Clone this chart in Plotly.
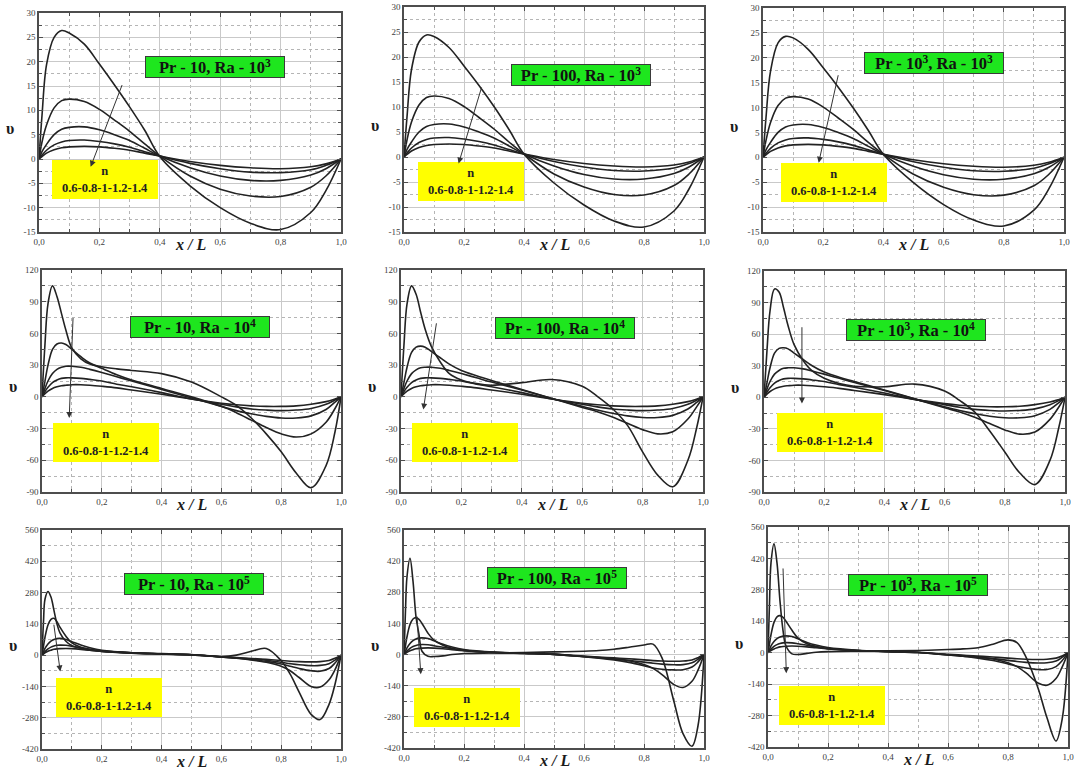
import plotly.graph_objects as go

W, H = 1077, 783

# ---------------- data ----------------
x_ra3 = [0, 0.01, 0.025, 0.05, 0.075, 0.1, 0.15, 0.2, 0.25, 0.3, 0.35, 0.4, 0.5, 0.6, 0.7, 0.8, 0.9, 0.95, 1.0]
x_ra4 = [0, 0.01, 0.02, 0.035, 0.05, 0.065, 0.08, 0.1, 0.13, 0.16, 0.2, 0.25, 0.3, 0.4, 0.5, 0.6, 0.65, 0.7, 0.75, 0.8, 0.85, 0.9, 0.95, 0.98, 1.0]
x_ra5 = [0, 0.005, 0.01, 0.02, 0.03, 0.04, 0.05, 0.06, 0.08, 0.1, 0.13, 0.16, 0.2, 0.3, 0.4, 0.5, 0.6, 0.65, 0.7, 0.75, 0.8, 0.83, 0.86, 0.9, 0.93, 0.96, 0.98, 1.0]

n_values = ["0.6", "0.8", "1", "1.2", "1.4"]

v_pr10_ra3 = [
    [0, 9, 19.4, 25, 26.4, 25.9, 23.6, 19.5, 15.2, 10.7, 5.9, 0.5, -5.5, -10, -13.2, -14.5, -11, -6.5, 0],
    [0, 3.5, 7, 10.5, 12, 12.3, 11.8, 10.2, 8, 5.7, 3.1, 0.6, -3.5, -6.2, -7.6, -7.7, -5.8, -3.5, 0],
    [0, 1.5, 3, 5, 6.1, 6.5, 6.6, 6, 5, 3.8, 2.2, 0.6, -1.8, -3.5, -4.4, -4.4, -3.3, -2, 0],
    [0, 0.8, 1.8, 2.9, 3.5, 3.8, 3.9, 3.6, 3.1, 2.4, 1.5, 0.6, -0.9, -2, -2.7, -2.8, -2.2, -1.3, 0],
    [0, 0.5, 1.2, 1.9, 2.3, 2.5, 2.6, 2.5, 2.2, 1.8, 1.2, 0.6, -0.5, -1.3, -1.8, -2.0, -1.6, -1.0, 0],
]
v_pr100_ra3 = [
    [0, 8, 17.5, 23, 24.4, 24.1, 21.9, 18.2, 14.3, 10.1, 5.5, 0.6, -5.2, -9.6, -12.8, -14.0, -10.8, -6.4, 0],
    [0, 3.4, 7, 10.4, 11.9, 12.2, 11.7, 10.1, 7.9, 5.6, 3.0, 0.6, -3.4, -6.0, -7.5, -7.6, -5.7, -3.4, 0],
    [0, 1.5, 3, 5, 6.1, 6.5, 6.6, 6, 5, 3.8, 2.2, 0.6, -1.8, -3.5, -4.4, -4.4, -3.3, -2, 0],
    [0, 0.8, 1.8, 2.9, 3.5, 3.8, 3.9, 3.6, 3.1, 2.4, 1.5, 0.6, -0.9, -2, -2.7, -2.8, -2.2, -1.3, 0],
    [0, 0.5, 1.2, 1.9, 2.3, 2.5, 2.6, 2.5, 2.2, 1.8, 1.2, 0.6, -0.5, -1.3, -1.8, -2.0, -1.6, -1.0, 0],
]
v_pr1000_ra3 = [
    [0, 8, 17.3, 23, 24.3, 24, 21.7, 18, 14.1, 9.9, 5.4, 0.6, -5.1, -9.5, -12.6, -13.8, -10.6, -6.3, 0],
    [0, 3.4, 7, 10.4, 11.9, 12.2, 11.7, 10.1, 7.9, 5.6, 3.0, 0.6, -3.4, -6.0, -7.5, -7.6, -5.7, -3.4, 0],
    [0, 1.5, 3, 5, 6.1, 6.5, 6.6, 6, 5, 3.8, 2.2, 0.6, -1.8, -3.5, -4.4, -4.4, -3.3, -2, 0],
    [0, 0.8, 1.8, 2.9, 3.5, 3.8, 3.9, 3.6, 3.1, 2.4, 1.5, 0.6, -0.9, -2, -2.7, -2.8, -2.2, -1.3, 0],
    [0, 0.5, 1.2, 1.9, 2.3, 2.5, 2.6, 2.5, 2.2, 1.8, 1.2, 0.6, -0.5, -1.3, -1.8, -2.0, -1.6, -1.0, 0],
]

v_pr10_ra4 = [
    [0, 50, 88, 105, 95, 79, 63, 46, 36, 31, 28.5, 26.5, 25, 22, 14, 0, -8, -20, -35, -52, -72, -86, -65, -33, 0],
    [0, 15, 30, 45, 50, 51, 49.5, 45, 38, 32, 27, 21, 16, 8, 0, -9, -15, -22, -29, -35, -38, -35, -24, -11, 0],
    [0, 8, 15, 22, 26, 28, 29, 29, 28, 26, 23, 19, 15, 7, -1, -9, -13, -16, -18.5, -20, -20, -18, -12, -5, 0],
    [0, 5, 9, 13.5, 16, 17.5, 18, 18, 17.5, 16.5, 15, 12, 9.5, 4, -2, -7, -9.5, -11.5, -12.5, -13, -12.5, -11, -7, -3, 0],
    [0, 3, 5.5, 8, 9.5, 10.5, 11, 11.5, 11.5, 11, 10, 8.5, 6.5, 2.5, -2, -6, -7.5, -8.5, -9, -9, -8.5, -7, -4.5, -2, 0],
]
v_pr100_ra4 = [
    [0, 50, 88, 105, 97, 80, 64, 48, 33, 22, 16, 12.5, 11, 13.5, 16.4, 10, 0.5, -11, -27, -52, -74, -85, -60, -28, 0],
    [0, 14, 28, 42, 47, 48, 47, 43, 37, 31, 25, 20, 15.5, 7, -1.5, -10, -14, -19, -25, -31, -35, -33, -21, -9, 0],
    [0, 8, 15, 22, 25.5, 27.5, 28, 28, 27, 25, 22, 18, 14, 6.5, -1.5, -9, -12.5, -15.5, -18, -19.5, -19.5, -17.5, -11.5, -5, 0],
    [0, 5, 9, 13.5, 16, 17.5, 18, 18, 17.5, 16.5, 15, 12, 9.5, 4, -2, -7, -9.5, -11.5, -12.5, -13, -12.5, -11, -7, -3, 0],
    [0, 3, 5.5, 8, 9.5, 10.5, 11, 11.5, 11.5, 11, 10, 8.5, 6.5, 2.5, -2, -6, -7.5, -8.5, -9, -9, -8.5, -7, -4.5, -2, 0],
]
v_pr1000_ra4 = [
    [0, 45, 82, 103, 100, 85, 68, 50, 35, 25, 18, 13, 10.5, 10, 12.5, 6, -3, -14, -32, -52, -72, -83, -60, -28, 0],
    [0, 14, 28, 42, 46.5, 47, 46, 42, 36, 30, 24, 19, 15, 7, -1.5, -10, -14, -19, -25, -31, -35, -33, -21, -9, 0],
    [0, 8, 15, 22, 25.5, 27.5, 28, 28, 27, 25, 22, 18, 14, 6.5, -1.5, -9, -12.5, -15.5, -18, -19.5, -19.5, -17.5, -11.5, -5, 0],
    [0, 5, 9, 13.5, 16, 17.5, 18, 18, 17.5, 16.5, 15, 12, 9.5, 4, -2, -7, -9.5, -11.5, -12.5, -13, -12.5, -11, -7, -3, 0],
    [0, 3, 5.5, 8, 9.5, 10.5, 11, 11.5, 11.5, 11, 10, 8.5, 6.5, 2.5, -2, -6, -7.5, -8.5, -9, -9, -8.5, -7, -4.5, -2, 0],
]

v_pr10_ra5 = [
    [0, 150, 250, 285, 260, 200, 140, 100, 62, 42, 30, 22, 17, 10, 7, 3, -6, 0, 17, 30, -25, -85, -165, -265, -288, -220, -130, 0],
    [0, 40, 80, 135, 160, 165, 150, 125, 85, 55, 35, 25, 18, 10, 6, 2, -8, -14, -22, -32, -50, -70, -100, -140, -143, -110, -65, 0],
    [0, 15, 30, 50, 63, 70, 74, 75, 70, 60, 45, 33, 22, 11, 6, 2, -8, -13, -20, -28, -40, -50, -60, -70, -72, -60, -35, 0],
    [0, 8, 16, 28, 36, 41, 44, 45, 44, 40, 33, 26, 19, 10, 5, 1, -8, -12, -17, -23, -32, -38, -43, -47, -46, -38, -22, 0],
    [0, 5, 10, 17, 22, 26, 28, 29, 30, 29, 26, 22, 17, 9, 5, 1, -7, -11, -15, -19, -24, -27, -29, -30, -29, -24, -14, 0],
]
v_pr100_ra5 = [
    [0, 200, 350, 433, 330, 170, 90, 15, -8, -9, -6, 0, 5, 7, 9, 12, 15, 18, 24, 33, 43, 47, -15, -212, -355, -412, -320, 0],
    [0, 40, 80, 135, 160, 166, 158, 140, 96, 65, 42, 28, 18, 10, 6, 2, -10, -15, -20, -28, -45, -62, -90, -135, -148, -120, -70, 0],
    [0, 15, 30, 50, 63, 70, 74, 75, 72, 62, 46, 34, 23, 11, 6, 1, -10, -16, -24, -35, -50, -60, -66, -69, -68, -56, -33, 0],
    [0, 8, 16, 28, 36, 41, 44, 45, 44, 40, 33, 26, 19, 10, 5, 1, -9, -13, -19, -26, -34, -39, -43, -46, -45, -37, -21, 0],
    [0, 5, 10, 17, 22, 26, 28, 29, 30, 29, 26, 22, 17, 9, 5, 1, -7, -11, -15, -19, -24, -27, -29, -30, -29, -24, -14, 0],
]
v_pr1000_ra5 = [
    [0, 220, 400, 485, 400, 230, 100, 30, -5, -8, -3, 2, 5, 7, 8, 10, 14, 17, 22, 38, 57, 45, -20, -157, -290, -393, -300, 0],
    [0, 40, 80, 135, 160, 165, 158, 140, 100, 65, 40, 28, 18, 10, 6, 2, -10, -15, -20, -28, -45, -62, -90, -135, -145, -115, -65, 0],
    [0, 15, 30, 50, 63, 70, 74, 75, 72, 62, 46, 34, 23, 11, 6, 1, -10, -16, -24, -35, -50, -60, -68, -75, -75, -62, -36, 0],
    [0, 8, 16, 28, 36, 41, 44, 45, 44, 40, 33, 26, 19, 10, 5, 1, -9, -13, -19, -26, -34, -39, -43, -46, -45, -37, -21, 0],
    [0, 5, 10, 17, 22, 26, 28, 29, 30, 29, 26, 22, 17, 9, 5, 1, -7, -11, -15, -19, -24, -27, -29, -30, -29, -24, -14, 0],
]

pr_labels = ["10", "100", "10<sup>3</sup>"]
ra_labels = ["10<sup>3</sup>", "10<sup>4</sup>", "10<sup>5</sup>"]

x_tickvals = [0, 0.2, 0.4, 0.6, 0.8, 1.0]
x_ticktext = ["0,0", "0,2", "0,4", "0,6", "0,8", "1,0"]
y_ticks_ra3 = [-15, -10, -5, 0, 5, 10, 15, 20, 25, 30]
y_ticks_ra4 = [-90, -60, -30, 0, 30, 60, 90, 120]
y_ticks_ra5 = [-420, -280, -140, 0, 140, 280, 420, 560]

# ---------------- layout helpers ----------------
rows = [
    (x_ra3, [v_pr10_ra3, v_pr100_ra3, v_pr1000_ra3], y_ticks_ra3),
    (x_ra4, [v_pr10_ra4, v_pr100_ra4, v_pr1000_ra4], y_ticks_ra4),
    (x_ra5, [v_pr10_ra5, v_pr100_ra5, v_pr1000_ra5], y_ticks_ra5),
]

# plot-area pixel boxes (left, right, top, bottom)
boxes = [
    [(39, 341, 13, 232), (404, 704, 7, 232), (763, 1064, 8, 232)],
    [(42, 341, 270, 492), (401, 703, 270, 492), (764, 1065, 271, 492)],
    [(42, 341, 530, 749), (404, 704, 530, 748), (768, 1068, 527, 747)],
]
green_c = [[(215, 67), (581, 75), (934, 63)],
           [(200, 327), (565, 328), (916, 330)],
           [(194, 584), (557, 578), (918, 585)]]
yellow_c = [[(105, 179), (471, 181), (834, 182)],
            [(106, 443), (465, 442), (830, 432)],
            [(109, 697), (467, 707), (832, 705)]]
arrows = [[((0.277, 15.5), (0.171, -1.6)), ((0.26, 14.2), (0.182, -1.3)), ((0.251, 16.8), (0.185, -1.1))],
          [((0.104, 76), (0.091, -20)), ((0.118, 71), (0.074, -12)), ((0.126, 68), (0.126, -6))],
          [((0.039, 143), (0.061, -73)), ((0.043, 178), (0.056, -88)), ((0.05, 382), (0.061, -91))]]


def px(xp):
    return xp / W


def py(yp):
    return 1 - yp / H


SERIF = "Liberation Serif"
fig = go.Figure()
layout = dict(width=W, height=H, margin=dict(l=0, r=0, t=0, b=0, autoexpand=False),
              paper_bgcolor="white", plot_bgcolor="white", showlegend=False)
annotations = []

k = 0
for r, (xs, panels, yt) in enumerate(rows):
    ystep = yt[1] - yt[0]
    yminor = [yt[0] + ystep / 2 + i * ystep for i in range(len(yt) - 1)]
    for c, series in enumerate(panels):
        k += 1
        xa = "x" if k == 1 else f"x{k}"
        ya = "y" if k == 1 else f"y{k}"
        for i, ys in enumerate(series):
            fig.add_trace(go.Scatter(x=xs, y=ys, mode="lines", name="n = " + n_values[i],
                                     line=dict(color="#222222", width=1.6, shape="spline", smoothing=1.0),
                                     xaxis=xa, yaxis=ya, hoverinfo="skip"))
        l, rr, t, b = boxes[r][c]
        common = dict(showline=True, mirror="ticks", linecolor="#4d4d4d", linewidth=1.5,
                      ticks="inside", ticklen=4, tickcolor="#4d4d4d",
                      showgrid=True, gridcolor="#c9c9c9", gridwidth=1, zeroline=False,
                      tickfont=dict(family=SERIF, size=9, color="#404040"))
        layout["xaxis" + ("" if k == 1 else str(k))] = dict(
            domain=[px(l), px(rr)], anchor=ya, range=[0, 1],
            tickmode="array", tickvals=x_tickvals, ticktext=x_ticktext,
            minor=dict(tickvals=[0.1, 0.3, 0.5, 0.7, 0.9], showgrid=True, gridcolor="#b5b5b5",
                       griddash="dot", ticks="inside", ticklen=3, tickcolor="#4d4d4d"),
            **common)
        layout["yaxis" + ("" if k == 1 else str(k))] = dict(
            domain=[py(b), py(t)], anchor=xa, range=[yt[0], yt[-1]],
            tickmode="array", tickvals=yt, ticktext=[str(v) for v in yt],
            minor=dict(tickvals=yminor, showgrid=True, gridcolor="#b5b5b5",
                       griddash="dot", ticks="inside", ticklen=3, tickcolor="#4d4d4d"),
            **common)
        # axis titles
        annotations.append(dict(xref="paper", yref="paper", x=px((l + rr) / 2), y=py(b + 12),
                                xanchor="center", yanchor="middle",
                                text="<b><i>x / L</i></b>", showarrow=False,
                                font=dict(family=SERIF, size=16, color="#1a1a1a")))
        annotations.append(dict(xref="paper", yref="paper", x=px(l - 29), y=py((t + b) / 2 + 6),
                                xanchor="center", yanchor="middle",
                                text="<b>υ</b>", showarrow=False,
                                font=dict(family=SERIF, size=16, color="#1a1a1a")))
        # green label
        gx, gy = green_c[r][c]
        annotations.append(dict(xref="paper", yref="paper", x=px(gx), y=py(gy),
                                xanchor="center", yanchor="middle",
                                text=f"<b>Pr - {pr_labels[c]}, Ra - {ra_labels[r]}</b>",
                                showarrow=False, bgcolor="#1ee61e", bordercolor="#3a3a3a",
                                borderwidth=1, borderpad=1, width=136, height=18,
                                font=dict(family=SERIF, size=16.5, color="#111111")))
        # yellow label
        yx, yy = yellow_c[r][c]
        annotations.append(dict(xref="paper", yref="paper", x=px(yx), y=py(yy),
                                xanchor="center", yanchor="middle",
                                text="<b>n<br>" + "-".join(n_values) + "</b>",
                                showarrow=False, bgcolor="#ffff00", borderwidth=0,
                                width=104, height=37, align="center",
                                font=dict(family=SERIF, size=12.5, color="#222222")))
        # arrow
        (tx, ty), (hx, hy) = arrows[r][c]
        annotations.append(dict(xref=xa, yref=ya, axref=xa, ayref=ya, x=hx, y=hy, ax=tx, ay=ty,
                                text="", showarrow=True, arrowhead=2, arrowsize=1.2,
                                arrowwidth=1, arrowcolor="#333333"))

layout["annotations"] = annotations
fig.update_layout(**layout)
fig.write_html("out.html", config={"displayModeBar": False},
               post_script="document.body.style.margin='0px';document.body.style.overflow='hidden';")
